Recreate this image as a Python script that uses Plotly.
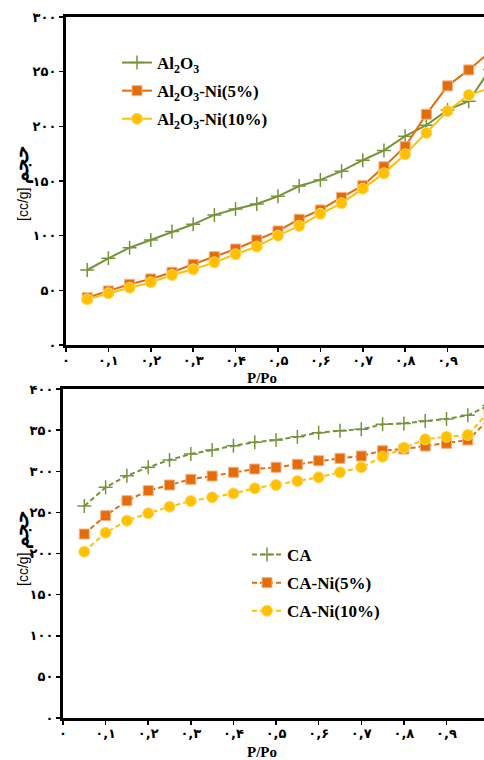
import plotly.graph_objects as go

# ---------------- data ----------------
P = [0.05, 0.10, 0.15, 0.20, 0.25, 0.30, 0.35, 0.40, 0.45, 0.50,
     0.55, 0.60, 0.65, 0.70, 0.75, 0.80, 0.85, 0.90, 0.95, 1.00]

al2o3 = [68.6, 79.3, 89, 96, 103.7, 110.4, 119, 124.4, 129, 136,
         145.4, 151, 159, 169, 178, 191, 201, 215, 223, 252]
al2o3_ni5 = [43.3, 49.4, 55.5, 60.4, 66.5, 73.8, 80.8, 87.8, 96, 104.3,
             115, 123.5, 135, 145.7, 163, 181.4, 211, 237, 251.6, 268]
al2o3_ni10 = [41.8, 47.3, 52.4, 57.3, 64, 69.2, 75.6, 83, 90, 100,
              109, 120, 129.6, 143, 157, 174.4, 194, 214, 228.6, 235]

ca = [257.7, 280.5, 294.6, 304.8, 313.7, 321, 325.8, 331, 335.2, 338,
      342, 346.9, 349.3, 351, 357, 358.2, 361, 363.5, 368, 380]
ca_ni5 = [223.7, 246, 264.2, 276.4, 283.3, 290.2, 294.2, 298.7, 302.7, 304.8,
          308.4, 312.8, 315.7, 318.5, 325, 327, 330.7, 334, 338, 363]
ca_ni10 = [202.2, 225.3, 239.9, 248.9, 256.9, 263.8, 268.3, 273, 279.2, 283.3,
           288.1, 292.6, 298.7, 304.8, 317.7, 328.6, 338.8, 342, 344, 373]

x_tickvals = [0, 0.1, 0.2, 0.3, 0.4, 0.5, 0.6, 0.7, 0.8, 0.9]
x_ticktext = ["۰", "۰,۱", "۰,۲", "۰,۳", "۰,۴", "۰,۵", "۰,۶", "۰,۷", "۰,۸", "۰,۹"]
y1_tickvals = [0, 50, 100, 150, 200, 250, 300]
y1_ticktext = ["۰", "۵۰", "۱۰۰", "۱۵۰", "۲۰۰", "۲۵۰", "۳۰۰"]
y2_tickvals = [0, 50, 100, 150, 200, 250, 300, 350, 400]
y2_ticktext = ["۰", "۵۰", "۱۰۰", "۱۵۰", "۲۰۰", "۲۵۰", "۳۰۰", "۳۵۰", "۴۰۰"]

top_names = ["Al<sub>2</sub>O<sub>3</sub>", "Al<sub>2</sub>O<sub>3</sub>-Ni(5%)",
             "Al<sub>2</sub>O<sub>3</sub>-Ni(10%)"]
bot_names = ["CA", "CA-Ni(5%)", "CA-Ni(10%)"]
y_title = '[cc/g] <span style="font-size:20px"><b>حجم</b></span>'
x_title = "<b>P/Po</b>"

GREEN = "#76933C"
ORANGE = "#E46C0A"
YELLOW = "#FFC000"

W, H = 484, 760

fig = go.Figure()

def marker_for(kind, color):
    if kind == "cross":
        return dict(symbol="cross-thin", size=10, color=color, line=dict(width=1.5, color=color))
    if kind == "square":
        return dict(symbol="square", size=10, color=color, line=dict(width=1, color="#F4B183"))
    return dict(symbol="circle", size=11, color=color, line=dict(width=1, color="#FFD966"))

top_series = [(al2o3, GREEN, "cross"), (al2o3_ni5, ORANGE, "square"), (al2o3_ni10, YELLOW, "circle")]
for i, (vals, col, kind) in enumerate(top_series):
    fig.add_trace(go.Scatter(
        x=P, y=vals, mode="lines+markers", name="<b>" + top_names[i] + "</b>",
        line=dict(color=col, width=2), marker=marker_for(kind, col),
        xaxis="x", yaxis="y", legend="legend", legendgroup="t%d" % i))

bot_series = [(ca, GREEN, "cross"), (ca_ni5, ORANGE, "square"), (ca_ni10, YELLOW, "circle")]
for i, (vals, col, kind) in enumerate(bot_series):
    fig.add_trace(go.Scatter(
        x=P, y=vals, mode="lines+markers", name="<b>" + bot_names[i] + "</b>",
        line=dict(color=col, width=2, dash="5px,3px"), marker=marker_for(kind, col),
        xaxis="x2", yaxis="y2", legend="legend2", legendgroup="b%d" % i))

def px_x(p):
    return p / W

def px_y(p):
    return 1 - p / H

tickfont = dict(family="DejaVu Sans", size=13, color="black", weight="bold")
axis_common = dict(showgrid=False, zeroline=False, showline=True, linecolor="black",
                   linewidth=3, ticks="outside", ticklen=4, tickwidth=1.5,
                   tickcolor="black", tickfont=tickfont, automargin=False, fixedrange=True)

fig.update_layout(
    width=W, height=H,
    margin=dict(l=0, r=0, t=0, b=0),
    paper_bgcolor="white", plot_bgcolor="white",
    template="none",
    xaxis=dict(domain=[px_x(66), 1], range=[0, 0.986], anchor="y", mirror=True,
               ticklabelstandoff=-3,
               tickmode="array", tickvals=x_tickvals, ticktext=x_ticktext, **axis_common),
    yaxis=dict(domain=[px_y(345), px_y(17)], range=[0, 300], anchor="x",
               tickmode="array", tickvals=y1_tickvals, ticktext=y1_ticktext, **axis_common),
    xaxis2=dict(domain=[px_x(63), 1], range=[0, 0.988], anchor="y2", mirror=True,
                ticklabelstandoff=-3,
                tickmode="array", tickvals=x_tickvals, ticktext=x_ticktext, **axis_common),
    yaxis2=dict(domain=[px_y(718), px_y(389)], range=[0, 400], anchor="x2",
                tickmode="array", tickvals=y2_tickvals, ticktext=y2_ticktext, **axis_common),
    legend=dict(x=px_x(117), y=px_y(45), xanchor="left", yanchor="top",
                bgcolor="rgba(0,0,0,0)", traceorder="grouped", tracegroupgap=3,
                font=dict(family="Liberation Serif", size=17, color="black")),
    legend2=dict(x=px_x(247), y=px_y(537), xanchor="left", yanchor="top",
                 bgcolor="rgba(0,0,0,0)", traceorder="grouped", tracegroupgap=3,
                 font=dict(family="Liberation Serif", size=17, color="black")),
    showlegend=True,
)

annots = []
for yc in (184, 549):
    annots.append(dict(text=y_title, textangle=-90, x=px_x(22), y=px_y(yc),
                       xanchor="center", yanchor="middle",
                       xref="paper", yref="paper", showarrow=False,
                       font=dict(family="Liberation Sans", size=14, color="black")))
for yc in (378, 752):
    annots.append(dict(text=x_title, x=px_x(262), y=px_y(yc),
                       xanchor="center", yanchor="middle",
                       xref="paper", yref="paper", showarrow=False,
                       font=dict(family="Liberation Serif", size=15, color="black")))
fig.update_layout(annotations=annots)

fig.write_html("out.html",
               config={"displayModeBar": False, "staticPlot": True},
               post_script="document.body.style.margin='0';document.body.style.overflow='hidden';")
